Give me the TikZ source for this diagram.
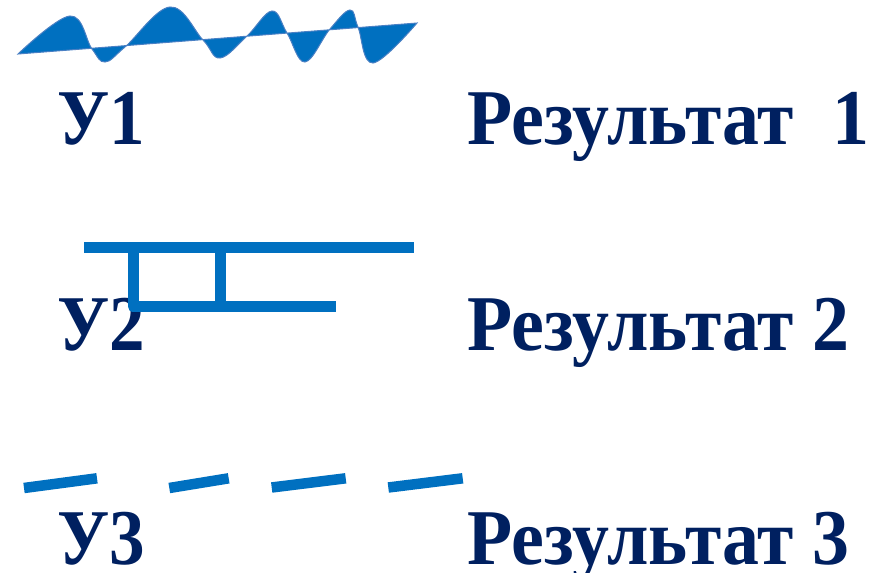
\documentclass[tikz,border=0pt]{standalone}
\usepackage{fontspec}
\setmainfont{Liberation Serif}
\begin{document}
\begin{tikzpicture}[x=1pt,y=-1pt]
\definecolor{navy}{HTML}{002060}
\definecolor{mblue}{HTML}{0070C0}
\definecolor{eblue}{HTML}{4A80C4}
\tikzset{
  lbl/.style={anchor=base west,inner sep=0pt,text=navy,font=\fontsize{79}{79}\selectfont\bfseries},
  bar/.style={draw=mblue,line width=11pt,line cap=butt,line join=round},
  dashbar/.style={draw=mblue,line width=10.5pt,line cap=butt},
  wave/.style={fill=mblue,draw=eblue,line width=1pt}
}
\useasboundingbox (0,0) rectangle (884,573);
% texts
\node[lbl] (u1) at (57,144) {\scalebox{0.9}[1]{У1}};
\node[lbl] (r1) at (467,144) {\scalebox{0.935}[1]{Результат\hspace{42pt}1}};
\node[lbl] (u2) at (57,350) {\scalebox{0.9}[1]{У2}};
\node[lbl] (r2) at (467,350) {\scalebox{0.935}[1]{Результат 2}};
\node[lbl] (u3) at (57,564) {\scalebox{0.9}[1]{У3}};
\node[lbl] (r3) at (467,564) {\scalebox{0.935}[1]{Результат 3}};
% wave
\path[wave] plot[smooth,tension=0.65] coordinates {(18,54) (70,16) (92,49) (105,62) (125,47) (170,7) (203,40) (220,58) (247,36) (272,11) (287,33) (305,62) (330,29) (350,10) (358,27) (373,63) (417,23)} -- cycle;
% ladder
\coordinate (tl) at (84,247);
\coordinate (tr) at (414,247);
\coordinate (vl) at (133,247);
\coordinate (bl) at (133,306.5);
\coordinate (br) at (336,306.5);
\coordinate (vm) at (220,247);
\coordinate (bm) at (220,306.5);
\draw[bar] (vl) -- (bl) -- (br);
\draw[bar] (vm) -- (bm);
\draw[bar] (tl) -- (tr);
% dashes
\coordinate (d1a) at (24,488);   \coordinate (d1b) at (97,478.3);
\coordinate (d2a) at (169.3,488); \coordinate (d2b) at (228.7,478.3);
\coordinate (d3a) at (271.7,487.5); \coordinate (d3b) at (345.7,478.3);
\coordinate (d4a) at (388.3,487.5); \coordinate (d4b) at (462.7,478.3);
\draw[dashbar] (d1a) -- (d1b);
\draw[dashbar] (d2a) -- (d2b);
\draw[dashbar] (d3a) -- (d3b);
\draw[dashbar] (d4a) -- (d4b);
\end{tikzpicture}
\end{document}
